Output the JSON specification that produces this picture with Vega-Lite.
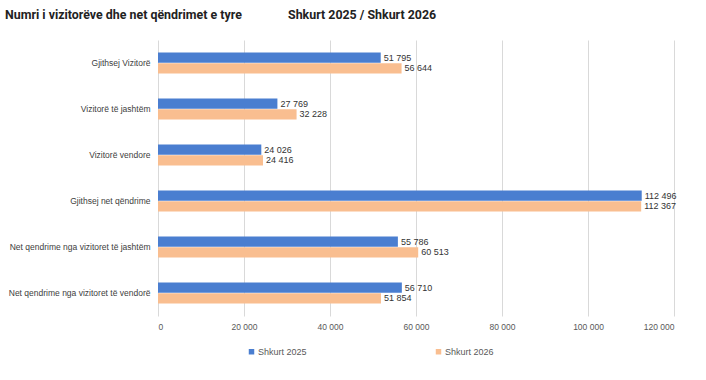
{
  "$schema": "https://vega.github.io/schema/vega-lite/v6.json",
  "autosize": "none",
  "width": 516,
  "height": 276,
  "padding": {"left": 158, "top": 40, "right": 32, "bottom": 64},
  "background": "white",
  "config": {
    "locale": {"number": {"decimal": ",", "thousands": " ", "grouping": [3], "currency": ["", ""]}},
    "view": {"stroke": null},
    "font": "Liberation Sans"
  },
  "title": {
    "text": "Numri i vizitorëve dhe net qëndrimet e tyre\u00a0\u00a0\u00a0\u00a0\u00a0\u00a0\u00a0\u00a0\u00a0\u00a0\u00a0\u00a0\u00a0\u00a0\u00a0Shkurt 2025 / Shkurt 2026",
    "anchor": "start",
    "frame": "group",
    "dx": -153,
    "offset": 19,
    "font": "Roboto",
    "fontSize": 12.4,
    "fontWeight": "bold",
    "color": "#222222"
  },
  "data": {
    "values": [
      {"cat": "Gjithsej Vizitorë", "series": "Shkurt 2025", "value": 51795},
      {"cat": "Gjithsej Vizitorë", "series": "Shkurt 2026", "value": 56644},
      {"cat": "Vizitorë të jashtëm", "series": "Shkurt 2025", "value": 27769},
      {"cat": "Vizitorë të jashtëm", "series": "Shkurt 2026", "value": 32228},
      {"cat": "Vizitorë vendore", "series": "Shkurt 2025", "value": 24026},
      {"cat": "Vizitorë vendore", "series": "Shkurt 2026", "value": 24416},
      {"cat": "Gjithsej net qëndrime", "series": "Shkurt 2025", "value": 112496},
      {"cat": "Gjithsej net qëndrime", "series": "Shkurt 2026", "value": 112367},
      {"cat": "Net qendrime nga  vizitoret të jashtëm", "series": "Shkurt 2025", "value": 55786},
      {"cat": "Net qendrime nga  vizitoret të jashtëm", "series": "Shkurt 2026", "value": 60513},
      {"cat": "Net qendrime nga vizitoret të vendorë", "series": "Shkurt 2025", "value": 56710},
      {"cat": "Net qendrime nga vizitoret të vendorë", "series": "Shkurt 2026", "value": 51854}
    ]
  },
  "encoding": {
    "y": {
      "field": "cat", "type": "nominal", "sort": null,
      "scale": {"paddingInner": 0.54, "paddingOuter": 0.27},
      "axis": {"title": null, "domain": false, "ticks": false, "labelPadding": 8, "labelFontSize": 8.5, "labelColor": "#404040", "labelLimit": 200}
    },
    "yOffset": {"field": "series", "type": "nominal", "scale": {"paddingInner": 0.05}},
    "x": {
      "field": "value", "type": "quantitative",
      "scale": {"domain": [0, 120000]},
      "axis": {"title": null, "domain": false, "ticks": false, "values": [0, 20000, 40000, 60000, 80000, 100000, 120000], "labelOverlap": false, "format": ",d", "labelPadding": 6, "labelFontSize": 8.5, "labelColor": "#595959", "gridColor": "#d9d9d9"}
    }
  },
  "layer": [
    {
      "mark": {"type": "bar"},
      "encoding": {
        "color": {
          "field": "series", "type": "nominal",
          "scale": {"domain": ["Shkurt 2025", "Shkurt 2026"], "range": ["#4A7ED0", "#F9BE90"]},
          "legend": {
            "title": null, "orient": "none", "direction": "horizontal",
            "legendX": 89, "legendY": 307,
            "symbolType": "square", "symbolSize": 30, "symbolStrokeWidth": 0,
            "labelFontSize": 9, "labelColor": "#595959", "labelOffset": 2,
            "columnPadding": 127
          }
        }
      }
    },
    {
      "mark": {"type": "text", "align": "left", "dx": 3, "fontSize": 9, "color": "#333333"},
      "encoding": {
        "text": {"field": "value", "type": "quantitative", "format": ",d"}
      }
    }
  ]
}
